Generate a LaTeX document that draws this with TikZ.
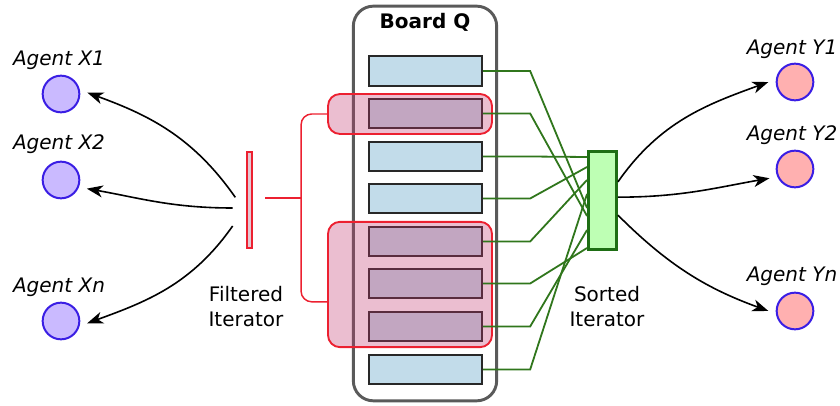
\documentclass[tikz,border=0pt]{standalone}
\usepackage{fontspec}
\setmainfont{DejaVu Sans}
\usetikzlibrary{arrows.meta}
\definecolor{agentedge}{RGB}{58,30,228}
\definecolor{agentx}{RGB}{202,186,255}
\definecolor{agenty}{RGB}{255,176,176}
\definecolor{slotfill}{RGB}{194,220,234}
\definecolor{slotedge}{RGB}{40,40,40}
\definecolor{boardgray}{RGB}{90,90,90}
\definecolor{grpred}{RGB}{236,32,48}
\definecolor{grpfill}{RGB}{194,53,109}
\definecolor{barfill}{RGB}{226,200,210}
\definecolor{sortfill}{RGB}{190,255,180}
\definecolor{sortedge}{RGB}{30,110,20}
\definecolor{linkgreen}{RGB}{48,118,28}
\begin{document}
\begin{tikzpicture}[x=0.75pt, y=-0.75pt, font=\fontsize{15}{18.75}\selectfont,
    agent/.style={circle, draw=agentedge, line width=1.5pt, minimum size=27.5pt, inner sep=0pt},
    alabel/.style={font=\fontsize{15}{18.75}\selectfont\itshape},
    slot/.style={draw=slotedge, fill=slotfill, line width=1.5pt, minimum width=85pt, minimum height=22.2pt, inner sep=0pt},
    group/.style={draw=grpred, line width=1.4pt, fill=grpfill, fill opacity=0.32, rounded corners=9pt, minimum width=123pt, inner sep=0pt},
    link/.style={draw=linkgreen, line width=1.35pt},
    flow/.style={-{Stealth[length=12pt, width=9pt, inset=3.5pt]}, line width=1.2pt, shorten >=6pt},
    bracket/.style={draw=grpred, line width=1.1pt, rounded corners=8pt}
]
\useasboundingbox (0,0) rectangle (840,406);

% Board with its slots
\node[draw=boardgray, line width=2.2pt, rounded corners=15pt, minimum width=107.5pt, minimum height=296pt, inner sep=0pt] (board) at (425,203.5) {};
\node[font=\fontsize{15}{18.75}\selectfont\bfseries] (title) at (425,22) {Board Q};
\node[slot] (s1) at (425.5,71) {};
\node[slot] (s2) at (425.5,113.5) {};
\node[slot] (s3) at (425.5,156.5) {};
\node[slot] (s4) at (425.5,198.5) {};
\node[slot] (s5) at (425.5,241.5) {};
\node[slot] (s6) at (425.5,283.5) {};
\node[slot] (s7) at (425.5,326.5) {};
\node[slot] (s8) at (425.5,369.5) {};

% Filtered selections
\node[group, minimum height=30pt] (g1) at (410,114) {};
\node[group, minimum height=94pt] (g2) at (410,284.5) {};

% Iterators
\node[draw=grpred, fill=barfill, line width=1.3pt, minimum width=4pt, minimum height=72pt, inner sep=0pt] (fb) at (249.5,200) {};
\node[draw=sortedge, fill=sortfill, line width=2.2pt, minimum width=21pt, minimum height=73.5pt, inner sep=0pt] (sorted) at (602.5,200.5) {};
\node[align=center] (fblabel) at (246,307) {Filtered\\Iterator};
\node[align=center] (sortlabel) at (607,307) {Sorted\\Iterator};

% Agents
\node[agent, fill=agentx] (x1) at (61,94) {};
\node[agent, fill=agentx] (x2) at (61,180) {};
\node[agent, fill=agentx] (xn) at (61,321) {};
\node[agent, fill=agenty] (y1) at (795,82) {};
\node[agent, fill=agenty] (y2) at (795,169) {};
\node[agent, fill=agenty] (yn) at (795,311) {};
\node[alabel] (lx1) at (59,60) {Agent X1};
\node[alabel] (lx2) at (59,144) {Agent X2};
\node[alabel] (lxn) at (59,287) {Agent Xn};
\node[alabel] (ly1) at (792,49) {Agent Y1};
\node[alabel] (ly2) at (792,135) {Agent Y2};
\node[alabel] (lyn) at (792,276) {Agent Yn};

% Filter bracket
\draw[bracket] ([xshift=9pt, yshift=1.5pt]fb.east) -- ++(36,0);
\draw[bracket] (g1.west) -- ++(-26,0) |- ([yshift=-13pt]g2.west);

% Sorted links
\draw[link] (s1.east) -- ++(47,0) -- (sorted.west |- 0,208);
\draw[link] (s2.east) -- ++(47,0) -- (sorted.west |- 0,216);
\draw[link] (s3.east) -- ++(47,0) -- (sorted.west |- 0,157);
\draw[link] (s4.east) -- ++(47,0) -- (sorted.west |- 0,167);
\draw[link] (s5.east) -- ++(47,0) -- (sorted.west |- 0,180);
\draw[link] (s6.east) -- ++(47,0) -- (sorted.west |- 0,248);
\draw[link] (s7.east) -- ++(47,0) -- (sorted.west |- 0,230);
\draw[link] (s8.east) -- ++(47,0) -- (sorted.west |- 0,194);

% Iterator outputs
\draw[flow] ([xshift=-8pt, yshift=2pt]fb.west) to[out=125, in=-20] (x1.12);
\draw[flow] ([xshift=-10pt, yshift=-6pt]fb.west) to[out=180, in=-10] (x2.-22);
\draw[flow] ([xshift=-10pt, yshift=-19.5pt]fb.west) to[out=-125, in=20] (xn.-15);
\draw[flow] ([yshift=14pt]sorted.east) to[out=55, in=200] (y1.172);
\draw[flow] ([yshift=2.5pt]sorted.east) to[out=0, in=190] (y2.204);
\draw[flow] ([yshift=-11pt]sorted.east) to[out=-45, in=160] (yn.188);
\end{tikzpicture}
\end{document}
